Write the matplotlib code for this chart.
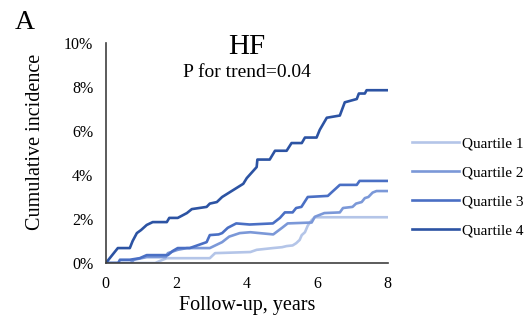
import matplotlib.pyplot as plt
from matplotlib.ticker import FuncFormatter

# Cumulative incidence of HF (in %) by quartile
q1_x = [0, 1.4, 1.6, 1.73, 2.95, 3.1, 4.1, 4.28, 4.74, 5.0, 5.13, 5.3, 5.4, 5.5, 5.56, 5.65,
        5.73, 5.84, 5.93, 8.0]
q1_y = [0, 0.0, 0.14, 0.22, 0.22, 0.45, 0.5, 0.6, 0.68, 0.72, 0.77, 0.8, 0.9, 1.05, 1.27, 1.4,
        1.7, 1.95, 2.08, 2.08]

q2_x = [0, 0.7, 0.8, 1.16, 1.7, 1.76, 2.04, 2.3, 2.95, 3.3, 3.5, 3.8, 4.1, 4.75, 5.0, 5.16,
        5.84, 5.93, 6.2, 6.64, 6.73, 7.0, 7.1, 7.26, 7.35, 7.45, 7.57, 7.68, 8.0]
q2_y = [0, 0.0, 0.15, 0.27, 0.27, 0.45, 0.6, 0.68, 0.68, 0.95, 1.2, 1.36, 1.4, 1.3, 1.6, 1.8,
        1.84, 2.1, 2.27, 2.3, 2.5, 2.55, 2.7, 2.77, 2.95, 3.0, 3.2, 3.27, 3.27]

q3_x = [0, 0.35, 0.4, 0.68, 0.96, 1.16, 1.76, 1.9, 2.04, 2.38, 2.86, 2.95, 3.2, 3.3, 3.46,
        3.7, 4.08, 4.74, 4.94, 5.08, 5.3, 5.4, 5.55, 5.73, 6.3, 6.4, 6.64, 7.12, 7.2, 8.0]
q3_y = [0, 0.0, 0.15, 0.15, 0.22, 0.36, 0.36, 0.55, 0.68, 0.68, 0.95, 1.27, 1.3, 1.36, 1.6,
        1.8, 1.75, 1.8, 2.05, 2.3, 2.3, 2.5, 2.55, 3.0, 3.05, 3.2, 3.55, 3.55, 3.73, 3.73]

q4_x = [0, 0.34, 0.68, 0.76, 0.88, 1.0, 1.16, 1.33, 1.73, 1.8, 2.04, 2.3, 2.44, 2.86, 2.95,
        3.15, 3.3, 3.5, 3.7, 3.9, 4.0, 4.28, 4.3, 4.65, 4.8, 5.13, 5.27, 5.56, 5.65, 5.98,
        6.07, 6.27, 6.64, 6.78, 7.12, 7.18, 7.35, 7.4, 8.0]
q4_y = [0, 0.68, 0.68, 1.0, 1.36, 1.5, 1.73, 1.86, 1.86, 2.05, 2.05, 2.27, 2.45, 2.55, 2.7,
        2.77, 3.0, 3.2, 3.4, 3.6, 3.86, 4.36, 4.7, 4.7, 5.1, 5.1, 5.45, 5.45, 5.7, 5.7,
        6.05, 6.6, 6.7, 7.3, 7.45, 7.7, 7.7, 7.85, 7.85]

labels = ["Quartile 1", "Quartile 2", "Quartile 3", "Quartile 4"]
colors = ["#b4c5e8", "#7b98d8", "#4a6fc4", "#2c53a3"]

plt.rcParams["font.family"] = ["Liberation Serif", "DejaVu Serif"]

fig = plt.figure(figsize=(5.24, 3.2), dpi=100)
ax = fig.add_axes([0.202, 0.178, 0.538, 0.688])

series = [(q1_x, q1_y), (q2_x, q2_y), (q3_x, q3_y), (q4_x, q4_y)]
for (xs, ys), lab, col in zip(series, labels, colors):
    ax.plot(xs, ys, color=col, lw=1.9, label=lab, solid_joinstyle="round")

ax.set_xlim(0, 8)
ax.set_ylim(0, 10)
ax.set_xticks([0, 2, 4, 6, 8])
ax.set_yticks([0, 2, 4, 6, 8, 10])
ax.yaxis.set_major_formatter(FuncFormatter(lambda v, p: f"{v:.0f}%"))
ax.tick_params(length=0, labelsize=11.5, pad=9)
for s in ["top", "right"]:
    ax.spines[s].set_visible(False)
for s in ["left", "bottom"]:
    ax.spines[s].set_color("#404040")
    ax.spines[s].set_linewidth(1.2)

ax.set_xlabel("Follow-up, years", fontsize=14.5, labelpad=3)
ax.set_ylabel("Cumulative incidence", fontsize=14.5)
ax.yaxis.set_label_coords(-0.215, 0.55)

ax.text(0.5, 0.98, "HF", transform=ax.transAxes, ha="center", va="center", fontsize=21)
ax.text(0.5, 0.865, "P for trend=0.04", transform=ax.transAxes, ha="center", va="center",
        fontsize=14)

fig.text(0.028, 0.93, "A", fontsize=20, va="center")

fig.legend(loc="upper left", bbox_to_anchor=(0.786, 0.573), frameon=False, fontsize=11,
           handlelength=3.1, handletextpad=0.2, labelspacing=1.0, borderpad=0,
           borderaxespad=0)

fig.savefig("out.png", dpi=100)
